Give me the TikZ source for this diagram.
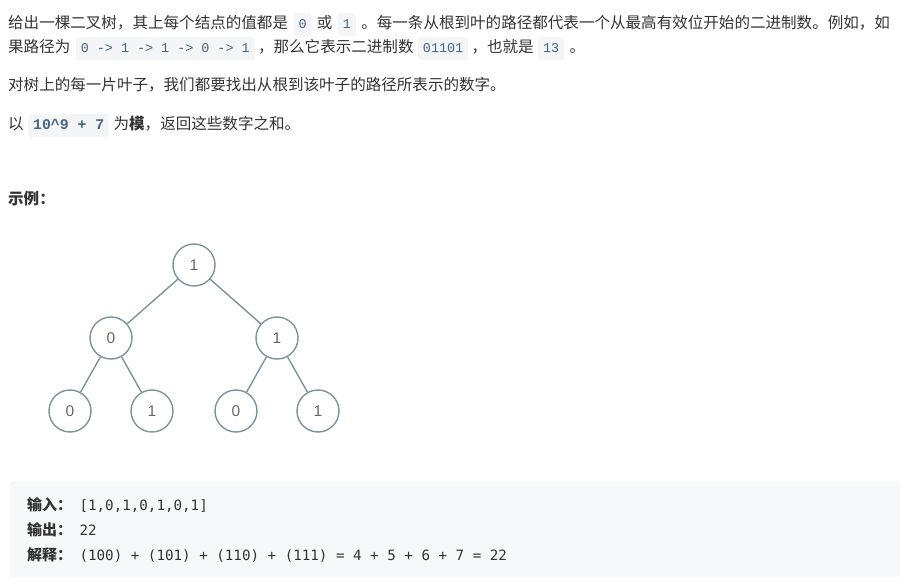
\documentclass[tikz,border=0pt]{standalone}
\usepackage{fontspec}
\setmainfont{Noto Sans CJK SC}
\newfontfamily\codefont{Liberation Mono}
\newfontfamily\blockfont{DejaVu Sans Mono}
\newfontfamily\treefont{Liberation Sans}
\usetikzlibrary{positioning}
\definecolor{bodytext}{HTML}{333333}
\definecolor{codetext}{HTML}{476582}
\definecolor{codebg}{HTML}{F3F5F7}
\definecolor{blockbg}{HTML}{F7F8FA}
\definecolor{treeline}{HTML}{7A939C}
\definecolor{treetext}{HTML}{666666}
\tikzset{
	txt/.style={inner sep=0pt, text=bodytext, font=\fontsize{15.55}{18}\selectfont, anchor=base west},
	inl/.style={fill=codebg, text=codetext, rounded corners=3pt, inner xsep=5pt, inner ysep=4pt, text height=12pt, text depth=3pt, font=\codefont\fontsize{13.4}{16}\selectfont},
	bit/.style={circle, draw=treeline, line width=1.4pt, minimum size=42pt, inner sep=0pt, text=treetext, font=\treefont\fontsize{15.5}{18}\selectfont},
	blk/.style={inner sep=0pt, text=bodytext, font=\blockfont\fontsize{14.2}{17}\selectfont, anchor=base west},
}
\begin{document}
\begin{tikzpicture}[x=1pt, y=-1pt]
	\useasboundingbox (0,0) rectangle (900,585);
	
	\node[txt] (l1a) at (8,29) {给出一棵二叉树，其上每个结点的值都是};
	\node[inl, base right=5pt of l1a] (l1b) {0};
	\node[txt, base right=5pt of l1b] (l1c) {或};
	\node[inl, base right=5pt of l1c] (l1d) {1};
	\node[txt, base right=5pt of l1d] (l1e) {。每一条从根到叶的路径都代表一个从最高有效位开始的二进制数。例如，如};
	
	\node[txt] (l2a) at (8,53) {果路径为};
	\node[inl, base right=5pt of l2a] (l2b) {0 -> 1 -> 1 -> 0 -> 1};
	\node[txt, base right=3pt of l2b] (l2c) {，那么它表示二进制数};
	\node[inl, base right=4pt of l2c] (l2d) {01101};
	\node[txt, base right=3pt of l2d] (l2e) {，也就是};
	\node[inl, base right=4pt of l2e] (l2f) {13};
	\node[txt, base right=5pt of l2f] (l2g) {。};
	
	\node[txt] (l3) at (8,91) {对树上的每一片叶子，我们都要找出从根到该叶子的路径所表示的数字。};
	
	\node[txt] (l4a) at (8,130) {以};
	\node[inl, base right=4pt of l4a, font=\codefont\bfseries\fontsize{14.8}{16}\selectfont] (l4b) {10\^{}9 + 7};
	\node[txt, base right=4pt of l4b] (l4c) {为{\bfseries 模}，返回这些数字之和。};
	
	\node[txt, font=\bfseries\fontsize{15.55}{18}\selectfont] (ex) at (8,205) {示例：};
	
	\node[bit] (r) at (194,265) {1};
	\node[bit] (a) at (111,338) {0};
	\node[bit] (b) at (277,338) {1};
	\node[bit] (aa) at (70,411) {0};
	\node[bit] (ab) at (152,411) {1};
	\node[bit] (ba) at (236,411) {0};
	\node[bit] (bb) at (318,411) {1};
	\draw[treeline, line width=1.4pt] (r) -- (a);
	\draw[treeline, line width=1.4pt] (r) -- (b);
	\draw[treeline, line width=1.4pt] (a) -- (aa);
	\draw[treeline, line width=1.4pt] (a) -- (ab);
	\draw[treeline, line width=1.4pt] (b) -- (ba);
	\draw[treeline, line width=1.4pt] (b) -- (bb);
	
	\fill[blockbg, rounded corners=3pt] (10,481) rectangle (900,577);
	\node[txt, font=\bfseries\fontsize{15}{18}\selectfont] (in) at (27,510) {输入：};
	\node[blk, base right=7pt of in] (inv) {[1,0,1,0,1,0,1]};
	\node[txt, font=\bfseries\fontsize{15}{18}\selectfont] (out) at (27,535) {输出：};
	\node[blk, base right=7pt of out] (outv) {22};
	\node[txt, font=\bfseries\fontsize{15}{18}\selectfont] (why) at (27,560) {解释：};
	\node[blk, base right=7pt of why] (whyv) {(100) + (101) + (110) + (111) = 4 + 5 + 6 + 7 = 22};
\end{tikzpicture}
\end{document}
